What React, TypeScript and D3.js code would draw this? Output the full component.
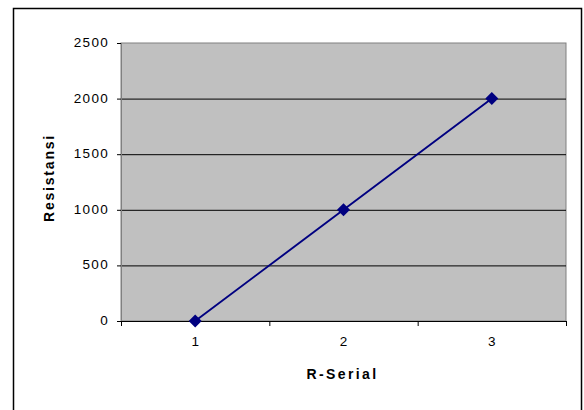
import React from "react";
import * as d3 from "d3";

const categories = ["1", "2", "3"];
const values = [0, 1000, 2000];
const yTicks = [0, 500, 1000, 1500, 2000, 2500];

export default function App() {
  const W = 584, H = 410;
  const left = 121, right = 566, top = 43, bottom = 321;
  const x = d3.scaleBand<string>().domain(categories).range([left, right]);
  const y = d3.scaleLinear().domain([0, 2500]).range([bottom, top]);
  const line = d3.line<number>()
    .x((_, i) => (x(categories[i]) as number) + x.bandwidth() / 2)
    .y((d) => y(d));
  const font = "'Liberation Sans', Arial, sans-serif";
  return (
    <svg width={W} height={H} style={{ position: "absolute", left: 0, top: 0 }}>
      <rect x={0} y={0} width={W} height={H} fill="#fff" />
      <rect x={13.5} y={8.5} width={568} height={420} fill="#fff" stroke="#000" strokeWidth={1.5} />
      <rect x={left} y={top} width={right - left} height={bottom - top} fill="#C0C0C0" stroke="#808080" strokeWidth={1} />
      {yTicks.map((t) => (
        <g key={t}>
          {t > 0 && t < 2500 && (
            <line x1={left} x2={right} y1={y(t) + 0.5} y2={y(t) + 0.5} stroke="#000" strokeWidth={1} />
          )}
          <line x1={left - 4} x2={left} y1={y(t) + 0.5} y2={y(t) + 0.5} stroke="#000" />
          <text x={109} y={y(t) + 4} textAnchor="end" fontSize={13.5} letterSpacing={1.3} fontFamily={font} fill="#000">{t}</text>
        </g>
      ))}
      <line x1={left + 0.5} x2={left + 0.5} y1={top} y2={bottom + 1} stroke="#808080" />
      <line x1={left} x2={right} y1={bottom + 0.5} y2={bottom + 0.5} stroke="#000" strokeWidth={1.2} />
      {categories.map((c, i) => (
        <g key={c}>
          <line x1={(x(c) as number) + x.bandwidth() + 0.5} x2={(x(c) as number) + x.bandwidth() + 0.5} y1={bottom} y2={bottom + 5} stroke="#000" />
          {i === 0 && <line x1={left + 0.5} x2={left + 0.5} y1={bottom} y2={bottom + 5} stroke="#000" />}
          <text x={(x(c) as number) + x.bandwidth() / 2} y={bottom + 25} textAnchor="middle" fontSize={13.5} fontFamily={font} fill="#000">{c}</text>
        </g>
      ))}
      <path d={line(values) || ""} fill="none" stroke="#000080" strokeWidth={1.9} />
      {values.map((v, i) => {
        const cx = (x(categories[i]) as number) + x.bandwidth() / 2;
        const cy = y(v);
        const s = 6.5;
        return <path key={i} d={`M${cx},${cy - s}L${cx + s},${cy}L${cx},${cy + s}L${cx - s},${cy}Z`} fill="#000080" />;
      })}
      <text x={342.5} y={378.5} textAnchor="middle" fontSize={14} fontWeight="bold" fontFamily={font} letterSpacing={2.4} fill="#000">R-Serial</text>
      <text transform={`translate(54,${178}) rotate(-90)`} textAnchor="middle" fontSize={14} fontWeight="bold" fontFamily={font} letterSpacing={1.8} fill="#000">Resistansi</text>
    </svg>
  );
}
